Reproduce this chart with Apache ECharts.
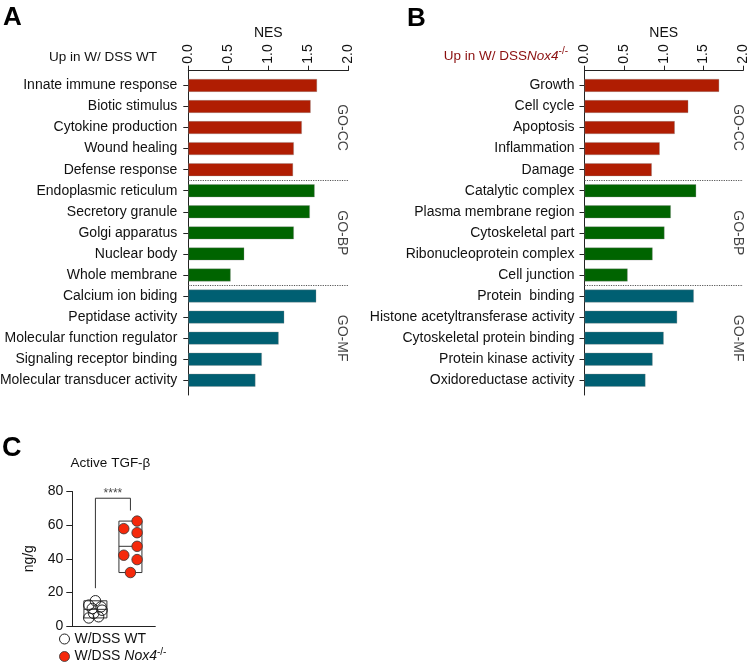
<!DOCTYPE html>
<html>
<head>
<meta charset="utf-8">
<script src="https://cdn.jsdelivr.net/npm/echarts@6/dist/echarts.min.js"></script>
<style>html,body{margin:0;padding:0;background:#fff;}#main{width:750px;height:663px;}</style>
</head>
<body>
<div id="main"></div>
<script>
// ---------- DATA ----------
const catsA = ['Innate immune response','Biotic stimulus','Cytokine production','Wound healing','Defense response',
  'Endoplasmic reticulum','Secretory granule','Golgi apparatus','Nuclear body','Whole membrane',
  'Calcium ion biding','Peptidase activity','Molecular function regulator','Signaling receptor binding','Molecular transducer activity'];
const valsA = [1.61, 1.53, 1.42, 1.32, 1.31, 1.58, 1.52, 1.32, 0.70, 0.53, 1.60, 1.20, 1.13, 0.92, 0.84];

const catsB = ['Growth','Cell cycle','Apoptosis','Inflammation','Damage',
  'Catalytic complex','Plasma membrane region','Cytoskeletal part','Ribonucleoprotein complex','Cell junction',
  'Protein  binding','Histone acetyltransferase activity','Cytoskeletal protein binding','Protein kinase activity','Oxidoreductase activity'];
const valsB = [1.70, 1.31, 1.14, 0.95, 0.85, 1.41, 1.09, 1.01, 0.86, 0.545, 1.38, 1.17, 1.00, 0.86, 0.77];

const groupNames = ['GO-CC', 'GO-BP', 'GO-MF'];
const groupSizes = [5, 5, 5];
const groupColors = ['#B01D02', '#006400', '#005F72'];
const nesTicks = [0, 0.5, 1.0, 1.5, 2.0];

const tgfGroups = ['W/DSS WT', 'W/DSS Nox4-/-'];
const tgfWT = [15, 12.4, 11.4, 10.4, 9.4, 7.5, 5.5, 4.8];
const tgfWTJitter = [0, -0.19, 0.16, -0.09, 0.19, -0.05, 0.09, -0.19];
const tgfKO = [62.4, 57.9, 55.5, 47.4, 42.1, 39.5, 31.8];
const tgfKOJitter = [0.19, -0.19, 0.19, 0.19, -0.19, 0.19, 0];
const tgfTicks = [0, 20, 40, 60, 80];
const sigLabel = '****';

// ---------- HELPERS ----------
const FONT = '"Liberation Sans", Arial, Helvetica, sans-serif';
const TXT = '#111';
function groupIndex(i) {
  let acc = 0;
  for (let g = 0; g < groupSizes.length; g++) { acc += groupSizes[g]; if (i < acc) return g; }
  return groupSizes.length - 1;
}
function groupCenters() {
  const out = []; let acc = 0;
  for (let g = 0; g < groupSizes.length; g++) { out.push(acc + (groupSizes[g] - 1) / 2); acc += groupSizes[g]; }
  return out;
}
function groupBoundaries() {
  const out = []; let acc = 0;
  for (let g = 0; g < groupSizes.length - 1; g++) { acc += groupSizes[g]; out.push(acc - 0.5); }
  return out;
}
function median(a) { const s = a.slice().sort((x, y) => x - y); const n = s.length; return n % 2 ? s[(n - 1) / 2] : (s[n / 2 - 1] + s[n / 2]) / 2; }

const grids = [], xAxes = [], yAxes = [], series = [];

function barPanel(cats, vals, left, width, groupX, labelMargin) {
  const gi = grids.length;
  const rowH = 21.06;
  const frameTop = 70.7, padTop = 0.7, padBot = 0.7;
  grids.push({ left: left, width: width, top: frameTop + (padTop - 0.5) * rowH, height: cats.length * rowH, outerBoundsMode: 'none', containLabel: false });
  grids.push({ left: left, width: width, top: frameTop, height: (cats.length - 1 + padTop + padBot) * rowH, outerBoundsMode: 'none', containLabel: false });
  const xi = xAxes.length, yi = yAxes.length;
  xAxes.push({ gridIndex: gi, type: 'value', min: 0, max: 2, show: false });
  xAxes.push({ gridIndex: gi + 1, type: 'value', min: nesTicks[0], max: nesTicks[nesTicks.length - 1], interval: 0.5,
    position: 'top', name: 'NES', nameLocation: 'middle', nameGap: 31,
    nameTextStyle: { fontFamily: FONT, fontSize: 14, color: TXT },
    axisLine: { show: true, onZero: false, lineStyle: { color: '#222', width: 1 } },
    axisTick: { show: true, length: 5, lineStyle: { color: '#222' } },
    axisLabel: { rotate: -90, margin: 7, fontFamily: FONT, fontSize: 14, color: TXT, formatter: v => v.toFixed(1) },
    splitLine: { show: false } });
  yAxes.push({ gridIndex: gi, type: 'category', inverse: true, data: cats,
    axisLine: { show: false },
    axisTick: { show: true, alignWithLabel: true, length: 5, lineStyle: { color: '#222' } },
    axisLabel: { margin: labelMargin, fontFamily: FONT, fontSize: 14, color: TXT } });
  yAxes.push({ gridIndex: gi + 1, type: 'value', inverse: true, min: -padTop, max: cats.length - 1 + padBot,
    axisLine: { show: true, onZero: false, lineStyle: { color: '#222', width: 1 } },
    axisTick: { show: false }, axisLabel: { show: false }, splitLine: { show: false } });
  series.push({ type: 'bar', xAxisIndex: xi, yAxisIndex: yi, barWidth: 13, silent: true, animation: false,
    data: vals.map((v, i) => ({ value: v, itemStyle: { color: groupColors[groupIndex(i)], borderColor: 'rgba(140,140,140,0.55)', borderWidth: 0.6 } })) });
  series.push({ type: 'scatter', xAxisIndex: xi + 1, yAxisIndex: yi + 1, silent: true, animation: false,
    symbolSize: 1, itemStyle: { color: 'rgba(0,0,0,0)' },
    data: groupCenters().map((c, g) => ({ value: [groupX, c], name: groupNames[g] })),
    label: { show: true, position: 'inside', align: 'center', verticalAlign: 'middle', rotate: -90, formatter: p => p.name, fontFamily: FONT, fontSize: 14, color: TXT },
    markLine: { silent: true, symbol: ['none', 'none'], animation: false, label: { show: false },
      lineStyle: { type: [1.2, 1.2], color: '#555', width: 1 },
      data: groupBoundaries().map(b => ({ yAxis: b })) } });
}

barPanel(catsA, valsA, 188.3, 160, 1.92, 11);
barPanel(catsB, valsB, 584.5, 158.5, 1.94, 10);

// ---------- PANEL C ----------
const gC = grids.length;
grids.push({ left: 72.3, width: 83, top: 491.5, height: 134.5, outerBoundsMode: 'none', containLabel: false });
const xC = xAxes.length, yC = yAxes.length;
xAxes.push({ gridIndex: gC, type: 'value', min: 0.34, max: 2.71, axisLine: { show: true, onZero: false, lineStyle: { color: '#222' } },
  axisTick: { show: false }, axisLabel: { show: false }, splitLine: { show: false } });
yAxes.push({ gridIndex: gC, type: 'value', min: tgfTicks[0], max: tgfTicks[tgfTicks.length - 1], interval: 20,
  name: 'ng/g', nameLocation: 'middle', nameGap: 36, nameRotate: 90,
  nameTextStyle: { fontFamily: FONT, fontSize: 14, color: TXT },
  axisLine: { show: true, onZero: false, lineStyle: { color: '#222' } },
  axisTick: { show: true, length: 6, lineStyle: { color: '#222' } },
  axisLabel: { margin: 9, fontFamily: FONT, fontSize: 14, color: TXT },
  splitLine: { show: false } });

const boxData = [[1, Math.min(...tgfWT), median(tgfWT), Math.max(...tgfWT)],
                 [2, Math.min(...tgfKO), median(tgfKO), Math.max(...tgfKO)]];
series.push({ type: 'custom', xAxisIndex: xC, yAxisIndex: yC, silent: true, animation: false, z: 1,
  data: boxData,
  renderItem: function (params, api) {
    const x = api.value(0);
    const top = api.coord([x, api.value(3)]);
    const bot = api.coord([x, api.value(1)]);
    const med = api.coord([x, api.value(2)]);
    const hw = 11.5;
    return { type: 'group', children: [
      { type: 'rect', shape: { x: top[0] - hw, y: top[1], width: hw * 2, height: bot[1] - top[1] },
        style: { fill: 'none', stroke: '#333', lineWidth: 1 } },
      { type: 'line', shape: { x1: med[0] - hw, y1: med[1], x2: med[0] + hw, y2: med[1] },
        style: { stroke: '#333', lineWidth: 1 } }
    ] };
  } });
series.push({ name: tgfGroups[0], type: 'scatter', xAxisIndex: xC, yAxisIndex: yC, silent: true, animation: false, z: 3,
  symbol: 'circle', symbolSize: 10.5,
  itemStyle: { color: 'rgba(255,255,255,0)', borderColor: '#222', borderWidth: 1, opacity: 1 },
  data: tgfWT.map((v, i) => [1 + tgfWTJitter[i], v]) });
series.push({ name: tgfGroups[1], type: 'scatter', xAxisIndex: xC, yAxisIndex: yC, silent: true, animation: false, z: 3,
  symbol: 'circle', symbolSize: 10.5,
  itemStyle: { color: '#F5290B', borderColor: '#333', borderWidth: 0.8, opacity: 1 },
  data: tgfKO.map((v, i) => [2 + tgfKOJitter[i], v]) });
series.push({ type: 'line', xAxisIndex: xC, yAxisIndex: yC, silent: true, animation: false, symbol: 'none',
  lineStyle: { color: '#333', width: 1 },
  data: [[1, 22.5], [1, 76], [2, 76], [2, 68.7]] });
series.push({ type: 'scatter', xAxisIndex: xC, yAxisIndex: yC, silent: true, animation: false, symbolSize: 1,
  itemStyle: { color: 'rgba(0,0,0,0)' },
  data: [[1.5, 76]],
  label: { show: true, position: 'top', distance: -2, formatter: sigLabel, fontFamily: FONT, fontSize: 12, color: TXT } });

// ---------- OPTION ----------
const option = {
  animation: false,
  backgroundColor: '#fff',
  grid: grids,
  xAxis: xAxes,
  yAxis: yAxes,
  series: series,
  legend: {
    show: true, orient: 'vertical', left: 59, top: 632, height: 40, padding: 0, itemWidth: 10, itemHeight: 10, itemGap: 1,
    selectedMode: false,
    data: [
      { name: tgfGroups[0], icon: 'circle', itemStyle: { color: '#fff', borderColor: '#222', borderWidth: 1 } },
      { name: tgfGroups[1], icon: 'circle', itemStyle: { color: '#F5290B', borderColor: '#333', borderWidth: 0.8 } }
    ],
    formatter: function (name) {
      if (name === tgfGroups[1]) return '{n|W/DSS }{i|Nox4}{s|-/-}';
      return '{n|' + name + '}';
    },
    textStyle: { fontFamily: FONT, fontSize: 14, color: TXT,
      rich: {
        n: { fontFamily: FONT, fontSize: 14, color: TXT },
        i: { fontFamily: FONT, fontSize: 14, color: TXT, fontStyle: 'italic' },
        s: { fontFamily: FONT, fontSize: 10, color: TXT, padding: [0, 0, 9, 0] }
      } }
  },
  graphic: [
    { type: 'text', left: 3, top: 5, style: { text: 'A', font: 'bold 26px ' + FONT, fill: '#000' } },
    { type: 'text', left: 407, top: 6, style: { text: 'B', font: 'bold 26px ' + FONT, fill: '#000' } },
    { type: 'text', left: 2, top: 435, style: { text: 'C', font: 'bold 27px ' + FONT, fill: '#000' } },
    { type: 'text', x: 157, y: 57, style: { text: 'Up in W/ DSS WT', font: '13.5px ' + FONT, fill: TXT, textAlign: 'right', textVerticalAlign: 'middle' } },
    { type: 'text', x: 568, y: 56, style: {
        text: '{r|Up in W/ DSS}{i|Nox4}{s|-/-}', textAlign: 'right', textVerticalAlign: 'middle',
        rich: {
          r: { fontFamily: FONT, fontSize: 13.5, fill: '#8A0E0E' },
          i: { fontFamily: FONT, fontSize: 13.5, fill: '#8A0E0E', fontStyle: 'italic' },
          s: { fontFamily: FONT, fontSize: 10, fill: '#8A0E0E', padding: [0, 0, 9, 0] }
        } } },
    { type: 'text', x: 110.5, y: 463.5, style: { text: 'Active TGF-\u03B2', font: '13.5px ' + FONT, fill: TXT, textAlign: 'center', textVerticalAlign: 'middle' } }
  ]
};
const chart = echarts.init(document.getElementById('main'), null, { renderer: 'canvas' });
chart.setOption(option);
</script>
</body>
</html>
